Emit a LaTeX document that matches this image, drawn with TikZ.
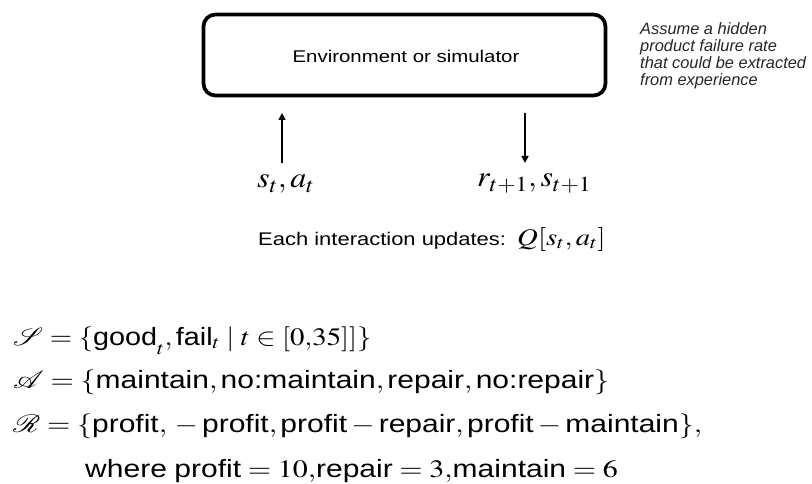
\documentclass[tikz,border=0pt]{standalone}
\usepackage{mathptmx}
\usepackage{mathrsfs}
\usepackage[no-math]{fontspec}
\setmainfont{Liberation Serif}
\setsansfont{Liberation Sans}
\usetikzlibrary{arrows.meta,shadows}

% upright sans words inside formulas
\newcommand\word[1]{\mbox{\sffamily #1}}

\tikzset{
  envbox/.style={draw, line width=3.7pt, rounded corners=12pt, fill=white,
    minimum width=402pt, minimum height=81pt,
    drop shadow={opacity=0.3, shadow xshift=0.6pt, shadow yshift=-1.6pt}},
  wide/.style={xscale=1.2, inner sep=0pt, anchor=base west},
  flow/.style={line width=1.4pt, -{Triangle[length=7pt,width=7pt]}},
  notetext/.style={font=\sffamily\itshape\fontsize{16.4}{17}\selectfont,
    inner sep=0pt, anchor=base west, text=black!85},
  bigmath/.style={wide, xscale=0.92, font=\fontsize{29}{32}\selectfont},
  setrow/.style={wide, font=\fontsize{25}{30}\selectfont},
}

\begin{document}
\begin{tikzpicture}[x=1pt, y=-1pt]
  \useasboundingbox (0,0) rectangle (812,484);

  % environment box and its label
  \node[envbox] (env) at (404.5,55) {};
  \node[wide, anchor=base, font=\sffamily\fontsize{17}{20}\selectfont]
    (envlabel) at (406,63) {Environment or simulator};

  % side note
  \node[notetext] (note1) at (640,35) {Assume a hidden};
  \node[notetext] (note2) at (640,52) {product failure rate};
  \node[notetext] (note3) at (640,69) {that could be extracted};
  \node[notetext] (note4) at (640,86) {from experience};

  % agent -> environment and environment -> agent
  \coordinate (upfoot) at (282,163);
  \coordinate (uphead) at (282,113);
  \coordinate (downfoot) at (525,113);
  \coordinate (downhead) at (525,163);
  \draw[flow] (upfoot) -- (uphead);
  \draw[flow] (downfoot) -- (downhead);

  \node[bigmath] (stat) at (257,188) {$s_t, a_t$};
  \node[bigmath] (rs) at (477,187) {$r_{t+1}, s_{t+1}$};

  % update line
  \node[wide, font=\sffamily\fontsize{18.3}{22}\selectfont]
    (upd) at (258,245) {Each interaction updates:};
  \node[wide, font=\fontsize{24}{27}\selectfont] (qexpr) at (517,245) {$Q[s_t, a_t]$};

  % MDP definition
  \node[setrow, xscale=0.96] (srow) at (13,345)
    {$\mathscr{S} = \{\word{good}_{\raisebox{-3pt}{$\scriptstyle t$}}, \word{fail}_{t} \mid t \in [0{,}35]]\}$};
  \node[setrow] (arow) at (13,388)
    {$\mathscr{A} = \{\word{maintain}, \word{no:maintain}, \word{repair}, \word{no:repair}\}$};
  \node[setrow] (rrow) at (13,432)
    {$\mathscr{R} = \{\word{profit}, {}-\word{profit}, \word{profit} - \word{repair}, \word{profit} - \word{maintain}\},$};
  \node[setrow] (wrow) at (85,477)
    {\word{where} $\word{profit} = 10{,}\word{repair} = 3{,}\word{maintain} = 6$};
\end{tikzpicture}
\end{document}
